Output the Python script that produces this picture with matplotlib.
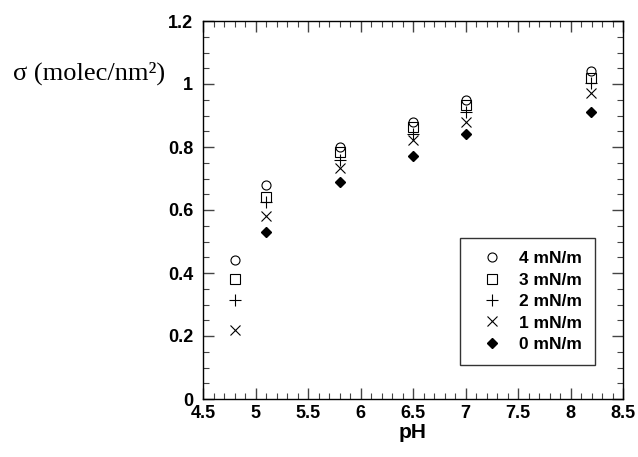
import matplotlib
matplotlib.use("Agg")
import matplotlib.pyplot as plt
from matplotlib.ticker import MultipleLocator

# Значения
ph_all = [4.8, 5.1, 5.8, 6.5, 7.0, 8.2]
ph_0 = [5.1, 5.8, 6.5, 7.0, 8.2]
sigma_4 = [0.44, 0.68, 0.80, 0.88, 0.95, 1.04]
sigma_3 = [0.38, 0.64, 0.785, 0.865, 0.933, 1.02]
sigma_2 = [0.315, 0.625, 0.76, 0.84, 0.91, 1.003]
sigma_1 = [0.22, 0.58, 0.732, 0.822, 0.88, 0.973]
sigma_0 = [0.53, 0.69, 0.77, 0.84, 0.91]
labels = ["4 mN/m", "3 mN/m", "2 mN/m", "1 mN/m", "0 mN/m"]

fig = plt.figure(figsize=(6.38, 4.57), dpi=100)
ax = fig.add_axes([203 / 638, 1 - 399 / 457, 420 / 638, 378 / 457])

ax.plot(ph_all, sigma_4, "o", mfc="white", mec="black", ms=6.5, mew=0.8, label=labels[0])
ax.plot(ph_all, sigma_3, "s", mfc="none", mec="black", ms=6.5, mew=0.8, label=labels[1])
ax.plot(ph_all, sigma_2, "+", color="black", ms=8.5, mew=0.8, label=labels[2])
ax.plot(ph_all, sigma_1, "x", color="black", ms=7.5, mew=0.8, label=labels[3])
ax.plot(ph_0, sigma_0, "D", color="black", ms=5.2, label=labels[4])

ax.set_xlim(4.5, 8.5)
ax.set_ylim(0, 1.2)
ax.xaxis.set_major_locator(MultipleLocator(0.5))
ax.xaxis.set_minor_locator(MultipleLocator(0.1))
ax.yaxis.set_major_locator(MultipleLocator(0.2))
ax.yaxis.set_minor_locator(MultipleLocator(0.05))
ax.xaxis.set_major_formatter(plt.FuncFormatter(lambda v, p: f"{v:g}"))
ax.yaxis.set_major_formatter(plt.FuncFormatter(lambda v, p: f"{v:g}"))
ax.tick_params(which="both", direction="in", top=True, right=True, color="#444444")
ax.tick_params(which="major", length=8, width=1.0, labelsize=13)
ax.tick_params(axis="x", which="major", pad=4)
ax.tick_params(axis="y", which="major", pad=7)
ax.tick_params(which="minor", length=4, width=0.8)
for lab in ax.get_xticklabels() + ax.get_yticklabels():
    lab.set_fontweight("bold")
    lab.set_family("Liberation Sans")
for s in ax.spines.values():
    s.set_linewidth(1.0)

ax.set_xlabel("pH", fontsize=15, fontweight="bold", family="Liberation Sans", labelpad=1)
fig.text(13 / 638, 1 - 73 / 457, "σ (molec/nm²)", fontsize=19, family="Liberation Serif",
         va="center", ha="left")

leg = ax.legend(loc="lower right", bbox_to_anchor=(0.933, 0.09), frameon=True, fancybox=False,
                edgecolor="black", prop={"family": "Liberation Sans", "weight": "bold", "size": 12.5},
                handletextpad=0.45, handlelength=2.2, borderpad=0.75, labelspacing=0.36,
                borderaxespad=0)
leg.get_frame().set_linewidth(1.0)

fig.savefig("out.png", dpi=100)
